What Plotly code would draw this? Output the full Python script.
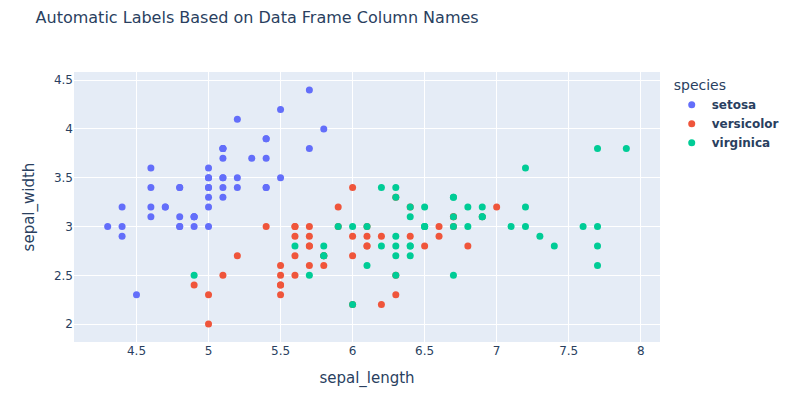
import plotly.graph_objects as go

species = ["setosa", "versicolor", "virginica"]
colors = ["#636efa", "#EF553B", "#00cc96"]

setosa_sepal_length = [5.1, 4.9, 4.7, 4.6, 5.0, 5.4, 4.6, 5.0, 4.4, 4.9, 5.4, 4.8, 4.8, 4.3, 5.8, 5.7, 5.4, 5.1, 5.7, 5.1,
                       5.4, 5.1, 4.6, 5.1, 4.8, 5.0, 5.0, 5.2, 5.2, 4.7, 4.8, 5.4, 5.2, 5.5, 4.9, 5.0, 5.5, 4.9, 4.4, 5.1,
                       5.0, 4.5, 4.4, 5.0, 5.1, 4.8, 5.1, 4.6, 5.3, 5.0]
setosa_sepal_width = [3.5, 3.0, 3.2, 3.1, 3.6, 3.9, 3.4, 3.4, 2.9, 3.1, 3.7, 3.4, 3.0, 3.0, 4.0, 4.4, 3.9, 3.5, 3.8, 3.8,
                      3.4, 3.7, 3.6, 3.3, 3.4, 3.0, 3.4, 3.5, 3.4, 3.2, 3.1, 3.4, 4.1, 4.2, 3.1, 3.2, 3.5, 3.1, 3.0, 3.4,
                      3.5, 2.3, 3.2, 3.5, 3.8, 3.0, 3.8, 3.2, 3.7, 3.3]

versicolor_sepal_length = [7.0, 6.4, 6.9, 5.5, 6.5, 5.7, 6.3, 4.9, 6.6, 5.2, 5.0, 5.9, 6.0, 6.1, 5.6, 6.7, 5.6, 5.8, 6.2, 5.6,
                           5.9, 6.1, 6.3, 6.1, 6.4, 6.6, 6.8, 6.7, 6.0, 5.7, 5.5, 5.5, 5.8, 6.0, 5.4, 6.0, 6.7, 6.3, 5.6, 5.5,
                           5.5, 6.1, 5.8, 5.0, 5.6, 5.7, 5.7, 6.2, 5.1, 5.7]
versicolor_sepal_width = [3.2, 3.2, 3.1, 2.3, 2.8, 2.8, 3.3, 2.4, 2.9, 2.7, 2.0, 3.0, 2.2, 2.9, 2.9, 3.1, 3.0, 2.7, 2.2, 2.5,
                          3.2, 2.8, 2.5, 2.8, 2.9, 3.0, 2.8, 3.0, 2.9, 2.6, 2.4, 2.4, 2.7, 2.7, 3.0, 3.4, 3.1, 2.3, 3.0, 2.5,
                          2.6, 3.0, 2.6, 2.3, 2.7, 3.0, 2.9, 2.9, 2.5, 2.8]

virginica_sepal_length = [6.3, 5.8, 7.1, 6.3, 6.5, 7.6, 4.9, 7.3, 6.7, 7.2, 6.5, 6.4, 6.8, 5.7, 5.8, 6.4, 6.5, 7.7, 7.7, 6.0,
                          6.9, 5.6, 7.7, 6.3, 6.7, 7.2, 6.2, 6.1, 6.4, 7.2, 7.4, 7.9, 6.4, 6.3, 6.1, 7.7, 6.3, 6.4, 6.0, 6.9,
                          6.7, 6.9, 5.8, 6.8, 6.7, 6.7, 6.3, 6.5, 6.2, 5.9]
virginica_sepal_width = [3.3, 2.7, 3.0, 2.9, 3.0, 3.0, 2.5, 2.9, 2.5, 3.6, 3.2, 2.7, 3.0, 2.5, 2.8, 3.2, 3.0, 3.8, 2.6, 2.2,
                         3.2, 2.8, 2.8, 2.7, 3.3, 3.2, 2.8, 3.0, 2.8, 3.0, 2.8, 3.8, 2.8, 2.8, 2.6, 3.0, 3.4, 3.1, 3.0, 3.1,
                         3.1, 3.1, 2.7, 3.2, 3.3, 3.0, 2.5, 3.0, 3.4, 3.0]

xs = [setosa_sepal_length, versicolor_sepal_length, virginica_sepal_length]
ys = [setosa_sepal_width, versicolor_sepal_width, virginica_sepal_width]

fig = go.Figure()
for name, c, x, y in zip(species, colors, xs, ys):
    fig.add_trace(go.Scatter(x=x, y=y, mode="markers", name=f"<b>{name}</b>",
                             marker=dict(color=c, size=7)))

fig.update_layout(
    template="plotly",
    width=788, height=387,
    font=dict(family="Verdana, DejaVu Sans, sans-serif"),
    margin=dict(l=66, r=133, t=64, b=53),
    title=dict(text="Automatic Labels Based on Data Frame Column Names", x=0.035, xanchor="left",
               y=0.977, yanchor="middle", font=dict(size=16)),
    xaxis=dict(title=dict(text="sepal_length", font=dict(size=15)), automargin=False),
    yaxis=dict(title=dict(text="sepal_width", font=dict(size=15)), automargin=False),
    legend=dict(title=dict(text="species")),
)

fig.write_html("out.html")
